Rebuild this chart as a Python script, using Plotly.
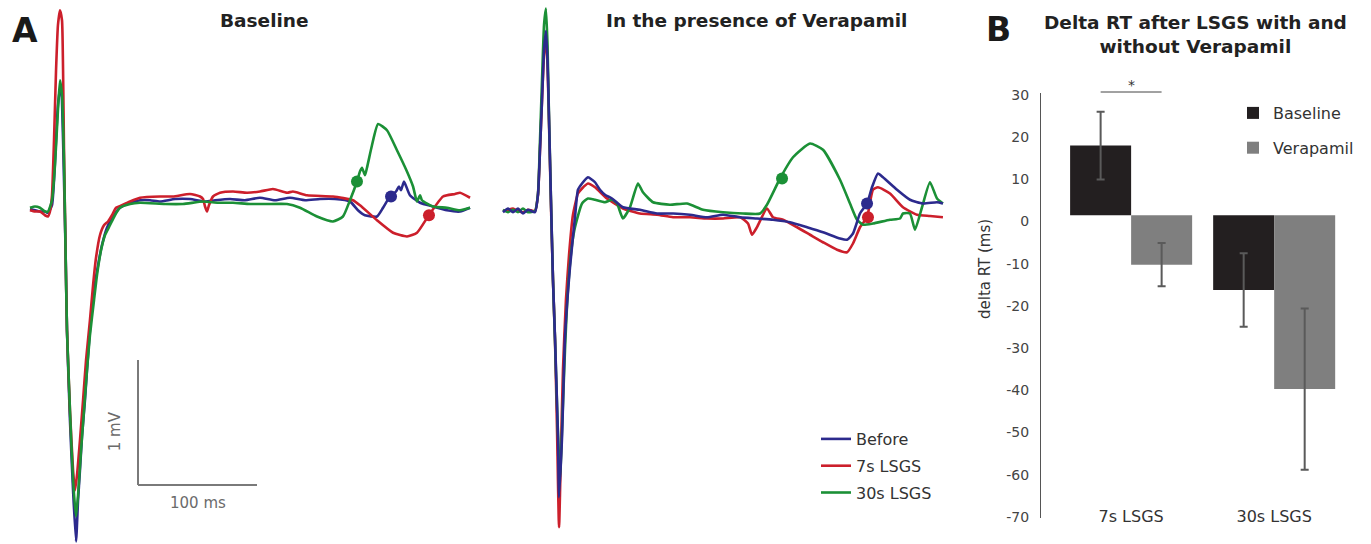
import plotly.graph_objects as go

W, H = 1371, 544

# ---------------- Panel A: Baseline EGM traces (time in ms, amplitude in mV) ----------------
base_before_t = [-1.7, 2.5, 6.7, 10.9, 13.4, 16.8, 18.5, 20.2, 21.8, 23.5, 24.4, 25.2, 26.9, 28.2, 29.4, 31.9,
                 34.5, 37.0, 38.7, 40.3, 42.0, 44.5, 46.2, 48.7, 52.1, 55.5, 58.8, 63.0, 68.1, 73.9, 82.4, 90.8,
                 99.2, 107.6, 120.2, 132.8, 145.4, 153.8, 166.4, 179.0, 191.6, 204.2, 216.8, 229.4, 242.0, 254.6,
                 267.2, 273.9, 279.8, 289.9, 295.0, 300.8, 305.9, 308.4, 310.1, 312.6, 317.6, 326.1, 337.0, 348.7,
                 359.7, 368.1]
base_before_v = [0.00, -0.01, -0.02, -0.02, -0.03, 0.03, 0.23, 0.55, 0.83, 0.95, 0.97, 0.87, 0.23, -0.33, -0.97, -1.69,
                 -2.25, -2.66, -2.33, -2.09, -1.82, -1.53, -1.29, -0.97, -0.65, -0.45, -0.29, -0.15, -0.06, 0.01, 0.05, 0.07,
                 0.07, 0.06, 0.08, 0.08, 0.06, 0.07, 0.08, 0.07, 0.09, 0.07, 0.09, 0.07, 0.08, 0.08,
                 0.06, -0.01, -0.05, -0.06, 0.01, 0.10, 0.14, 0.18, 0.15, 0.22, 0.11, 0.05, 0.02, -0.01,
                 -0.02, 0.01]

base_7s_t = [-1.7, 2.5, 6.7, 10.9, 13.4, 15.1, 16.8, 18.5, 20.2, 21.8, 23.5, 25.2, 26.1, 26.9, 28.2, 29.4,
             31.9, 34.5, 36.1, 37.8, 40.3, 42.9, 45.4, 48.7, 51.3, 53.8, 57.1, 60.5, 63.9, 67.2, 70.6, 75.6,
             82.4, 90.8, 107.6, 118.5, 132.8, 141.2, 143.7, 145.4, 147.1, 148.7, 152.1, 158.0, 168.9, 180.7,
             191.6, 202.5, 214.3, 219.3, 231.1, 252.9, 269.7, 275.6, 289.9, 303.4, 315.1, 323.5, 332.8, 345.4,
             355.5, 359.7, 368.1]
base_7s_v = [-0.01, -0.02, -0.02, -0.05, -0.06, -0.02, 0.11, 0.55, 1.11, 1.47, 1.59, 1.51, 1.11, 0.47, -0.33, -0.97,
             -1.61, -2.09, -2.25, -2.13, -1.85, -1.53, -1.21, -0.89, -0.61, -0.39, -0.21, -0.13, -0.10, -0.05, 0.01, 0.03,
             0.06, 0.09, 0.10, 0.10, 0.12, 0.10, 0.08, 0.02, -0.02, 0.03, 0.10, 0.13, 0.14, 0.13,
             0.14, 0.16, 0.13, 0.14, 0.11, 0.10, 0.07, 0.03, -0.09, -0.19, -0.22, -0.19, -0.06, 0.10,
             0.12, 0.13, 0.09]

base_30s_t = [-1.7, 2.5, 6.7, 10.9, 13.4, 16.8, 19.3, 21.8, 23.5, 25.2, 26.9, 28.2, 29.4, 31.9, 34.5, 37.0,
              38.7, 41.2, 43.7, 46.2, 48.7, 52.1, 54.6, 58.0, 61.3, 65.5, 69.7, 73.9, 82.4, 90.8, 111.8, 126.9,
              143.7, 156.3, 168.9, 183.2, 197.5, 214.3, 225.2, 239.5, 252.9, 261.3, 267.2, 273.1, 275.6, 277.3,
              279.8, 281.5, 285.7, 290.8, 298.3, 306.7, 315.1, 320.2, 323.5, 326.1, 327.7, 337.0, 348.7, 359.7,
              368.1]
base_30s_v = [0.01, 0.02, 0.01, -0.02, -0.02, 0.07, 0.35, 0.79, 1.03, 0.91, 0.39, -0.33, -0.97, -1.61, -2.17, -2.46,
              -2.29, -1.93, -1.61, -1.29, -1.01, -0.73, -0.53, -0.33, -0.21, -0.13, -0.05, 0.01, 0.04, 0.05, 0.04, 0.04,
              0.06, 0.05, 0.05, 0.04, 0.04, 0.04, 0.01, -0.06, -0.10, -0.06, 0.07, 0.22, 0.30, 0.33,
              0.27, 0.33, 0.51, 0.68, 0.63, 0.47, 0.30, 0.18, 0.06, 0.11, 0.07, 0.02, 0.01, -0.01,
              0.01]

# repolarisation-time markers (Baseline panel): Before, 7s, 30s
base_mark_t = [301.7, 333.6, 273.1]
base_mark_v = [0.10, -0.05, 0.22]

# ---------------- Panel A: Verapamil EGM traces ----------------
vera_before_t = [0.0, 4.2, 8.4, 12.6, 16.8, 21.0, 26.9, 29.4, 31.1, 32.8, 34.5, 36.1, 37.4, 38.7, 40.3, 42.0,
                 43.7, 46.2, 47.1, 49.6, 52.1, 56.3, 60.5, 63.0, 66.4, 71.4, 74.8, 77.3, 81.5, 85.7, 91.6,
                 100.8, 115.1, 129.4, 142.9, 157.1, 171.4, 184.9, 199.2, 213.4, 226.9, 241.2, 255.5, 268.9, 283.2,
                 289.1, 294.1, 300.0, 305.9, 310.1, 315.1, 319.3, 331.1, 342.0, 352.9, 364.7, 369.7]
vera_before_v = [-0.01, 0.02, -0.01, 0.02, -0.02, 0.01, -0.01, 0.13, 0.49, 0.89, 1.29, 1.44, 1.21, 0.73, 0.09, -0.55,
                 -1.01, -1.81, -2.29, -1.81, -1.01, -0.45, -0.05, 0.17, 0.22, 0.27, 0.25, 0.23, 0.17, 0.13, 0.10,
                 0.03, 0.01, -0.02, -0.02, -0.03, -0.05, -0.03, -0.05, -0.06, -0.07, -0.09, -0.13, -0.17, -0.22,
                 -0.23, -0.18, -0.02, 0.06, 0.19, 0.30, 0.27, 0.17, 0.09, 0.06, 0.07, 0.06]

vera_7s_t = [0.0, 4.2, 8.4, 12.6, 16.8, 21.0, 26.9, 29.4, 31.1, 32.8, 34.5, 36.1, 37.4, 38.7, 40.3, 42.0,
             43.7, 45.4, 47.1, 48.7, 50.4, 52.9, 55.5, 58.8, 63.0, 66.4, 71.4, 77.3, 87.4, 100.8, 115.1, 129.4,
             142.9, 157.1, 171.4, 184.9, 199.2, 205.9, 209.2, 213.4, 221.8, 226.9, 235.3, 247.1, 258.0, 268.9,
             280.7, 289.1, 294.1, 300.0, 305.9, 310.9, 315.1, 325.2, 336.1, 347.9, 358.8, 369.7]
vera_7s_v = [0.00, 0.01, 0.02, 0.00, -0.01, 0.01, 0.00, 0.13, 0.49, 0.89, 1.25, 1.38, 1.17, 0.69, 0.05, -0.55,
             -1.03, -1.75, -2.53, -1.91, -1.27, -0.71, -0.35, -0.03, 0.14, 0.18, 0.22, 0.19, 0.10, 0.02, -0.02, -0.03,
             -0.05, -0.05, -0.06, -0.06, -0.05, -0.10, -0.19, -0.13, 0.02, -0.05, -0.07, -0.13, -0.19, -0.25,
             -0.31, -0.33, -0.26, -0.13, -0.05, 0.17, 0.19, 0.14, 0.03, -0.03, -0.04, -0.05]

vera_30s_t = [0.0, 4.2, 8.4, 12.6, 16.8, 21.0, 26.9, 29.4, 31.1, 32.8, 34.5, 36.1, 37.4, 38.7, 40.3, 42.0,
              43.7, 45.8, 47.9, 49.6, 52.1, 54.6, 58.0, 60.5, 66.4, 71.4, 77.3, 85.7, 91.6, 95.8, 100.8, 106.7,
              113.4, 117.6, 126.1, 140.3, 154.6, 168.1, 184.9, 201.7, 216.0, 221.8, 232.8, 243.7, 258.0, 268.9,
              283.2, 291.6, 297.5, 302.5, 310.9, 325.2, 333.6, 336.1, 342.0, 346.2, 352.1, 358.8, 364.7, 369.7]
vera_30s_v = [0.01, -0.01, 0.01, -0.01, 0.02, -0.01, 0.00, 0.14, 0.57, 1.05, 1.49, 1.62, 1.33, 0.73, 0.09, -0.55,
              -1.03, -1.67, -2.13, -1.75, -1.11, -0.63, -0.27, -0.13, 0.06, 0.10, 0.09, 0.07, 0.09, 0.06, -0.06, 0.03,
              0.22, 0.15, 0.07, 0.05, 0.06, 0.01, -0.01, -0.02, -0.02, 0.05, 0.26, 0.43, 0.54, 0.49,
              0.25, 0.06, -0.07, -0.11, -0.10, -0.07, -0.06, -0.02, -0.02, -0.15, 0.03, 0.23, 0.10, 0.06]

vera_mark_t = [305.9, 306.7, 234.5]
vera_mark_v = [0.06, -0.05, 0.26]

# ---------------- Panel B: bar chart ----------------
categories = ["7s LSGS", "30s LSGS"]
baseline_mean = [18.0, -16.2]
baseline_err = [8.0, 8.7]
verapamil_mean = [-10.2, -39.7]
verapamil_err = [5.1, 19.1]
y_ticks = [30, 20, 10, 0, -10, -20, -30, -40, -50, -60, -70]
y_tick_labels = ["30", "20", "10", "0", "-10", "-20", "-30", "-40", "-50", "-60", "-70"]

# ---------------- styles ----------------
BLUE, RED, GREEN = "#2c2a8d", "#cc1f2b", "#1b9036"
COLORS = [BLUE, RED, GREEN]
FONT = "DejaVu Sans"
BAR_BASE = 1.5  # bars in the original start slightly above the 0 label
SCALE_GREY = "#7a7a7a"
LINE = dict(width=2.6, shape="spline", smoothing=0.5)

fig = go.Figure()

# Baseline panel (draw order: blue, red, green)
for t, v, name, col in [(base_before_t, base_before_v, "Before", BLUE),
                        (base_7s_t, base_7s_v, "7s LSGS", RED),
                        (base_30s_t, base_30s_v, "30s LSGS", GREEN)]:
    fig.add_trace(go.Scatter(x=t, y=v, mode="lines", line=dict(color=col, **LINE),
                             name=name, showlegend=False, xaxis="x", yaxis="y", hoverinfo="skip"))
fig.add_trace(go.Scatter(x=base_mark_t, y=base_mark_v, mode="markers",
                         marker=dict(color=COLORS, size=12), showlegend=False, xaxis="x", yaxis="y"))

# Verapamil panel (legend attached here)
for t, v, name, col, rank in [(vera_7s_t, vera_7s_v, "7s LSGS", RED, 2),
                              (vera_30s_t, vera_30s_v, "30s LSGS", GREEN, 3),
                              (vera_before_t, vera_before_v, "Before", BLUE, 1)]:
    fig.add_trace(go.Scatter(x=t, y=v, mode="lines", line=dict(color=col, **LINE),
                             name=name, legendrank=rank, legendgroup=name, showlegend=True,
                             legend="legend", xaxis="x2", yaxis="y2", hoverinfo="skip"))
fig.add_trace(go.Scatter(x=vera_mark_t, y=vera_mark_v, mode="markers",
                         marker=dict(color=COLORS, size=12), showlegend=False, xaxis="x2", yaxis="y2"))

# Bar chart
fig.add_trace(go.Bar(x=categories, y=[m - BAR_BASE for m in baseline_mean], base=BAR_BASE,
                     name="Baseline", marker=dict(color="#231f20", line=dict(width=0)),
                     error_y=dict(type="data", array=baseline_err, color="#5a5a5a", thickness=2, width=4),
                     legend="legend2", legendgroup="b1", xaxis="x3", yaxis="y3"))
fig.add_trace(go.Bar(x=categories, y=[m - BAR_BASE for m in verapamil_mean], base=BAR_BASE,
                     name="Verapamil", marker=dict(color="#7f7f7f", line=dict(width=0)),
                     error_y=dict(type="data", array=verapamil_err, color="#5a5a5a", thickness=2, width=4),
                     legend="legend2", legendgroup="b2", xaxis="x3", yaxis="y3"))

# axis geometry (pixel calibrated)
px_ms = 1.19   # px per ms  (100 ms scale bar = 119 px)
px_mv = 125.0  # px per mV  (1 mV scale bar = 125 px)
hidden = dict(visible=False, showgrid=False, zeroline=False, fixedrange=True, automargin=False)

fig.update_layout(
    template="none",
    width=W, height=H, margin=dict(l=0, r=0, t=0, b=0, pad=0, autoexpand=False),
    paper_bgcolor="white", plot_bgcolor="white",
    font=dict(family=FONT, color="#333333", size=16),
    barmode="group", bargap=0.147, bargroupgap=0,
    xaxis=dict(domain=[0, 480 / W], range=[-32 / px_ms, 448 / px_ms], anchor="y", **hidden),
    yaxis=dict(domain=[0, 1], range=[(209 - 544) / px_mv, 209 / px_mv], anchor="x", **hidden),
    xaxis2=dict(domain=[490 / W, 960 / W], range=[-13 / px_ms, 457 / px_ms], anchor="y2", **hidden),
    yaxis2=dict(domain=[0, 1], range=[(211 - 544) / px_mv, 211 / px_mv], anchor="x2", **hidden),
    xaxis3=dict(domain=[1041 / W, 1360 / W], range=[-0.63, 1.6], anchor="free", position=1 - 505 / H,
                showline=False, showgrid=False, zeroline=False, ticks="", automargin=False,
                tickfont=dict(size=16, color="#333333", family=FONT)),
    yaxis3=dict(domain=[1 - 518 / H, 1 - 93 / H], range=[-70.24, 30.47], anchor="x3",
                showline=True, linecolor="#555555", linewidth=1, showgrid=False, zeroline=False,
                ticks="", tickvals=y_ticks, ticktext=y_tick_labels, ticklabelstandoff=8, automargin=False,
                tickfont=dict(size=14, color="#444444", family=FONT)),
    legend=dict(x=816 / W, y=1 - 422 / H, xanchor="left", yanchor="top", bgcolor="rgba(0,0,0,0)",
                borderwidth=0, font=dict(size=16, color="#333333", family=FONT), traceorder="grouped",
                itemwidth=30, tracegroupgap=3),
    legend2=dict(x=1233 / W, y=1 - 96 / H, xanchor="left", yanchor="top", bgcolor="rgba(0,0,0,0)",
                 borderwidth=0, font=dict(size=16, color="#333333", family=FONT), traceorder="grouped",
                 tracegroupgap=11),
    showlegend=True,
)

# scale bars (Baseline panel, data units: 100 ms x 1 mV)
sb_t0, sb_v0 = (138 - 32) / px_ms, (209 - 485) / px_mv
fig.add_shape(type="line", xref="x", yref="y", x0=sb_t0, x1=sb_t0, y0=sb_v0, y1=sb_v0 + 1.0,
              line=dict(color=SCALE_GREY, width=2))
fig.add_shape(type="line", xref="x", yref="y", x0=sb_t0, x1=sb_t0 + 100, y0=sb_v0, y1=sb_v0,
              line=dict(color=SCALE_GREY, width=2))
fig.add_annotation(x=sb_t0 + 50, y=sb_v0, xref="x", yref="y", text="100 ms", showarrow=False,
                   xanchor="center", yanchor="top", yshift=-7, font=dict(size=15, color="#6b6b6b", family=FONT))
fig.add_annotation(x=sb_t0, y=sb_v0 + 0.43, xref="x", yref="y", text="1 mV", showarrow=False,
                   textangle=-90, xanchor="right", yanchor="middle", xshift=-12,
                   font=dict(size=15, color="#6b6b6b", family=FONT))

# significance bracket
fig.add_shape(type="line", xref="x3", yref="paper", x0=-0.213, x1=0.213, y0=1 - 92 / H, y1=1 - 92 / H,
              line=dict(color="#444444", width=1))
fig.add_annotation(x=0, y=1 - 85 / H, xref="x3", yref="paper", text="*", showarrow=False,
                   xanchor="center", yanchor="middle", font=dict(size=14, color="#333333", family=FONT))

# y-axis title of panel B
fig.add_annotation(x=985 / W, y=1 - 269 / H, xref="paper", yref="paper", text="delta RT (ms)",
                   xanchor="center", yanchor="middle",
                   showarrow=False, textangle=-90, font=dict(size=15, color="#333333", family=FONT))

# panel letters and titles
title_font = dict(size=18.5, color="#222222", family=FONT)


def note(text, x, y, font):
    fig.add_annotation(x=x / W, y=1 - y / H, xref="paper", yref="paper", text=text, showarrow=False,
                       xanchor="center", yanchor="middle", font=font)


note("<b>A</b>", 25, 30, dict(size=33, color="#1a1a1a", family=FONT))
note("<b>B</b>", 998, 29, dict(size=33, color="#1a1a1a", family=FONT))
note("<b>Baseline</b>", 264, 21, title_font)
note("<b>In the presence of Verapamil</b>", 756, 21, title_font)
note("<b>Delta RT after LSGS with and</b><br><b>without Verapamil</b>", 1195, 34, title_font)

fig.write_html("out.html")
